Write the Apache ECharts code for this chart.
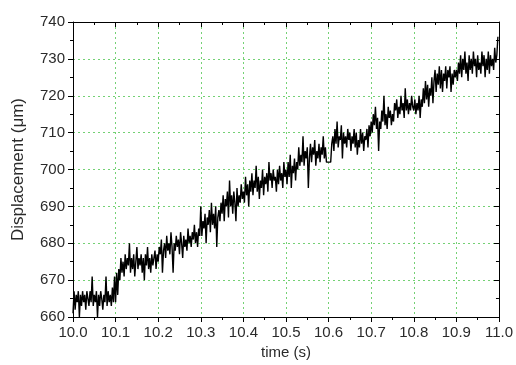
<!DOCTYPE html>
<html>
<head>
<meta charset="utf-8">
<script src="https://cdn.jsdelivr.net/npm/echarts@6/dist/echarts.min.js"></script>
<style>
  html, body { margin: 0; padding: 0; background: #fff; }
  #chart1 { width: 516px; height: 365px; }
</style>
</head>
<body>
<div id="chart1"></div>
<script>
// sampling of the trace (s)
var t0 = 10.0;
var dt = 0.0025;
// displacement readings (um), one array per 0.1 s
var seg1 = [661, 667, 662, 666, 664, 667, 660, 666, 663, 667, 664, 666, 662, 667, 665, 663, 667, 664, 671, 663, 666, 664, 667, 660, 666, 663, 667, 665, 662, 666, 664, 671, 663, 667, 664, 666, 663, 668, 664, 671];
var seg2 = [664, 672, 666, 673, 670, 676, 672, 675, 671, 677, 673, 676, 674, 680, 672, 676, 673, 677, 671, 675, 679, 673, 676, 674, 677, 672, 676, 670, 677, 674, 679, 673, 676, 672, 677, 674, 676, 678, 673, 677];
var seg3 = [675, 679, 677, 681, 672, 678, 680, 676, 682, 678, 680, 677, 683, 679, 672, 680, 678, 682, 679, 681, 677, 683, 680, 676, 682, 679, 681, 678, 684, 680, 682, 679, 683, 681, 685, 680, 683, 679, 684, 682];
var seg4 = [690, 682, 686, 684, 688, 680, 687, 685, 689, 683, 691, 685, 688, 684, 690, 679, 687, 689, 686, 691, 688, 693, 686, 692, 690, 694, 687, 697, 690, 693, 688, 694, 691, 686, 695, 690, 693, 691, 696, 692];
var seg5 = [694, 691, 698, 693, 696, 690, 697, 694, 699, 693, 697, 695, 701, 694, 698, 692, 697, 695, 700, 693, 698, 696, 699, 694, 702, 697, 699, 695, 700, 697, 698, 694, 700, 696, 701, 697, 699, 695, 702, 698];
var seg6 = [700, 696, 702, 698, 704, 695, 701, 699, 703, 697, 702, 700, 706, 701, 704, 702, 709, 701, 705, 703, 706, 695, 703, 707, 702, 706, 704, 708, 701, 705, 703, 707, 702, 706, 704, 709, 703, 706, 702, 702];
var seg7 = [702, 702, 702, 707, 709, 705, 711, 707, 713, 706, 709, 708, 712, 703, 710, 707, 709, 706, 711, 708, 710, 705, 709, 707, 711, 706, 710, 704, 708, 706, 711, 707, 710, 705, 709, 708, 711, 706, 712, 709];
var seg8 = [713, 710, 715, 712, 717, 711, 714, 705, 713, 711, 716, 713, 720, 712, 715, 711, 717, 714, 716, 712, 715, 713, 718, 716, 719, 714, 717, 715, 720, 716, 718, 714, 722, 716, 719, 715, 718, 716, 720, 717];
var seg9 = [716, 719, 715, 718, 716, 720, 714, 719, 717, 722, 718, 724, 719, 723, 717, 722, 720, 725, 718, 724, 727, 721, 726, 723, 728, 722, 727, 721, 726, 724, 728, 722, 727, 725, 728, 721, 726, 723, 727, 725];
var seg10 = [727, 724, 729, 726, 731, 725, 730, 727, 732, 726, 729, 724, 731, 727, 730, 726, 732, 728, 730, 725, 731, 727, 729, 726, 732, 728, 731, 725, 730, 727, 732, 726, 731, 728, 730, 727, 733, 729, 731, 736];

var disp = [].concat(seg1, seg2, seg3, seg4, seg5, seg6, seg7, seg8, seg9, seg10);
var lineData = [];
for (var i = 0; i < disp.length; i++) {
    lineData.push([t0 + i * dt, disp[i]]);
}

var font = 'Liberation Sans, Arial, sans-serif';
var textColor = '#2a2a2a';
var gridColor = '#74d174';
var axisColor = '#000';

var chart1 = echarts.init(document.getElementById('chart1'));
chart1.setOption({
    animation: false,
    grid: { left: 73, right: 15, top: 22, bottom: 45 },
    xAxis: [{
        type: 'value',
        min: 10, max: 11, interval: 0.1,
        name: 'time (s)',
        nameLocation: 'middle',
        nameGap: 28,
        nameTextStyle: { color: textColor, fontSize: 15, fontFamily: font },
        axisLine: { show: true, onZero: false, lineStyle: { color: axisColor, width: 1 } },
        axisTick: { show: true, inside: false, length: 5, lineStyle: { color: axisColor } },
        minorTick: { show: true, splitNumber: 2, length: 3, lineStyle: { color: axisColor } },
        axisLabel: { color: textColor, fontSize: 15, fontFamily: font, margin: 8, formatter: function(v) { return v.toFixed(1); } },
        splitLine: { show: true, lineStyle: { color: gridColor, type: [2, 3], width: 1 } }
    }, {
        type: 'value',
        position: 'top',
        min: 10, max: 11, interval: 0.1,
        axisLine: { show: true, onZero: false, lineStyle: { color: axisColor, width: 1 } },
        axisTick: { show: true, inside: true, length: 5, lineStyle: { color: axisColor } },
        minorTick: { show: true, splitNumber: 2, length: 3, lineStyle: { color: axisColor } },
        axisLabel: { show: false },
        splitLine: { show: false }
    }],
    yAxis: [{
        type: 'value',
        min: 660, max: 740, interval: 10,
        name: 'Displacement (\u03bcm)',
        nameLocation: 'middle',
        nameGap: 46,
        nameTextStyle: { color: textColor, fontSize: 17, fontFamily: font },
        axisLine: { show: true, onZero: false, lineStyle: { color: axisColor, width: 1 } },
        axisTick: { show: true, inside: false, length: 5, lineStyle: { color: axisColor } },
        minorTick: { show: true, splitNumber: 2, length: 3, lineStyle: { color: axisColor } },
        axisLabel: { color: textColor, fontSize: 15, fontFamily: font, margin: 8 },
        splitLine: { show: true, lineStyle: { color: gridColor, type: [2, 3], width: 1 } }
    }, {
        type: 'value',
        position: 'right',
        min: 660, max: 740, interval: 10,
        axisLine: { show: true, onZero: false, lineStyle: { color: axisColor, width: 1 } },
        axisTick: { show: true, inside: true, length: 5, lineStyle: { color: axisColor } },
        minorTick: { show: true, splitNumber: 2, length: 3, lineStyle: { color: axisColor } },
        axisLabel: { show: false },
        splitLine: { show: false }
    }],
    series: [{
        type: 'line',
        xAxisIndex: 0,
        yAxisIndex: 0,
        step: 'end',
        symbol: 'none',
        lineStyle: { color: '#000', width: 1.4 },
        data: lineData
    }]
});
window.onresize = function() {
    chart1.resize();
};
</script>
</body>
</html>
